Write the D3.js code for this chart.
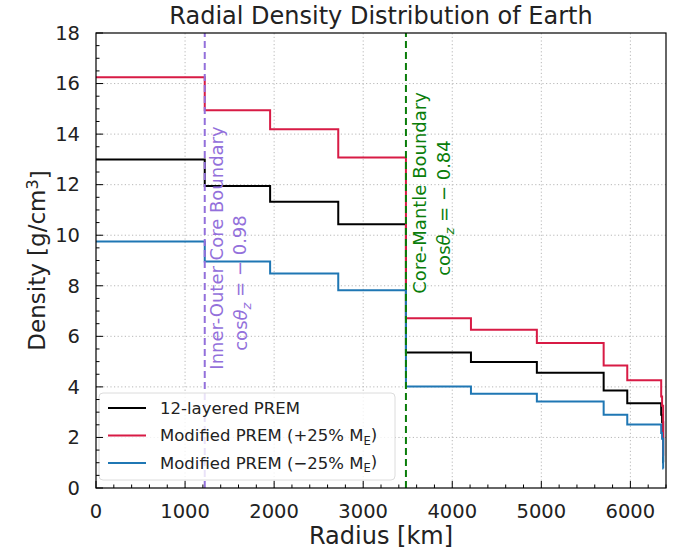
<!DOCTYPE html>
<html>
<head>
<meta charset="utf-8">
<script src="https://cdn.jsdelivr.net/npm/d3@7"></script>
<style>
  body { margin: 0; background: #fff; }
  svg text { font-family: "DejaVu Sans", sans-serif; fill: #222; }
</style>
</head>
<body>
<div id="chart"></div>
<script>
// Layer boundaries (km) and densities (g/cm^3)
const radii = [0, 1221, 1955, 2720, 3480, 4210, 4950, 5700, 5965, 6346, 6356, 6368, 6371];
const premDensity  = [13.0, 11.95, 11.32, 10.43, 5.36, 4.98, 4.56, 3.86, 3.35, 2.90, 2.60, 1.02];
const plusDensity  = [16.25, 14.94, 14.19, 13.07, 6.72, 6.26, 5.74, 4.85, 4.26, 3.62, 3.25, 1.28];
const minusDensity = [9.75, 8.96, 8.49, 7.82, 4.02, 3.73, 3.42, 2.90, 2.51, 2.18, 1.95, 0.77];

const xTicks = [0, 1000, 2000, 3000, 4000, 5000, 6000];
const yTicks = [0, 2, 4, 6, 8, 10, 12, 14, 16, 18];

const boundaries = [
    { r: 1221, color: '#9370db', name: 'Inner-Outer Core Boundary', cos: '0.98' },
    { r: 3480, color: '#0a7d0a', name: 'Core-Mantle Boundary', cos: '0.84' },
];

const series = [
    { label: '12-layered PREM', values: premDensity, color: '#000000', sub: null },
    { label: 'Modified PREM (+25% M', values: plusDensity, color: '#d81b45', sub: 'E' },
    { label: 'Modified PREM (\u221225% M', values: minusDensity, color: '#1f77b4', sub: 'E' },
];

const width = 673, height = 554;
const margin = { top: 33, right: 7, bottom: 66, left: 96 };
const innerW = width - margin.left - margin.right;
const innerH = height - margin.top - margin.bottom;

const svg = d3.select('#chart').append('svg')
    .attr('width', width)
    .attr('height', height);

const x = d3.scaleLinear().domain([0, 6400]).range([margin.left, margin.left + innerW]);
const y = d3.scaleLinear().domain([0, 18]).range([margin.top + innerH, margin.top]);

// Grid
const grid = svg.append('g')
    .attr('stroke', '#b0b0b0')
    .attr('stroke-width', 0.9)
    .attr('stroke-dasharray', '1.2,2.4');
grid.selectAll('line.gx').data(xTicks.slice(1)).join('line')
    .attr('x1', d => x(d)).attr('x2', d => x(d))
    .attr('y1', y(0)).attr('y2', y(18));
grid.selectAll('line.gy').data(yTicks.slice(1, -1)).join('line')
    .attr('y1', d => y(d)).attr('y2', d => y(d))
    .attr('x1', x(0)).attr('x2', x(6400));

// Step curves
const line = d3.line()
    .x(d => x(d[0]))
    .y(d => y(d[1]))
    .curve(d3.curveStepAfter);

series.forEach(s => {
    const pts = s.values.map((v, i) => [radii[i], v]);
    pts.push([radii[radii.length - 1], s.values[s.values.length - 1]]);
    svg.append('path')
        .datum(pts)
        .attr('fill', 'none')
        .attr('stroke', s.color)
        .attr('stroke-width', 2)
        .attr('d', line);
});

// Boundary lines
boundaries.forEach(b => {
    svg.append('line')
        .attr('x1', x(b.r)).attr('x2', x(b.r))
        .attr('y1', y(0)).attr('y2', y(18))
        .attr('stroke', b.color)
        .attr('stroke-width', 2)
        .attr('stroke-dasharray', '7,4');
});

// Boundary annotations (rotated)
const annoPos = [
    { dx: 12, c1: 248, c2: 283 },
    { dx: 14, c1: 193, c2: 208 },
];
boundaries.forEach((b, i) => {
    const p = annoPos[i];
    const bx = x(b.r) + p.dx;
    svg.append('text')
        .attr('transform', `translate(${bx},${p.c1}) rotate(-90)`)
        .attr('text-anchor', 'middle')
        .attr('dy', '0.35em')
        .style('font-size', '18px')
        .style('fill', b.color)
        .text(b.name);
    const t = svg.append('text')
        .attr('transform', `translate(${bx + 24},${p.c2}) rotate(-90)`)
        .attr('text-anchor', 'middle')
        .attr('dy', '0.35em')
        .style('font-size', '18px')
        .style('fill', b.color);
    t.append('tspan').text('cos');
    t.append('tspan').style('font-style', 'italic').text('\u03b8');
    t.append('tspan').attr('dy', '0.3em').style('font-size', '13px').style('font-style', 'italic').text('z');
    t.append('tspan').attr('dy', '-0.25em').text(' = \u2212 ' + b.cos);
});

// Legend
const lg = svg.append('g').attr('transform', `translate(${x(0) + 3},${y(0) - 95})`);
lg.append('rect')
    .attr('width', 296).attr('height', 87)
    .attr('rx', 4)
    .attr('fill', 'white').attr('fill-opacity', 0.8)
    .attr('stroke', '#dcdcdc').attr('stroke-width', 1);
series.forEach((s, i) => {
    const ry = 15 + i * 27.5;
    lg.append('line')
        .attr('x1', 9).attr('x2', 47)
        .attr('y1', ry).attr('y2', ry)
        .attr('stroke', s.color).attr('stroke-width', 2);
    const t = lg.append('text')
        .attr('x', 61).attr('y', ry)
        .attr('dy', '0.35em')
        .style('font-size', '16.5px');
    t.append('tspan').text(s.label);
    if (s.sub) {
        t.append('tspan').attr('dy', '0.3em').style('font-size', '11.5px').text(s.sub);
        t.append('tspan').attr('dy', '-0.3em').text(')');
    }
});

// Axes frame
svg.append('rect')
    .attr('x', x(0)).attr('y', y(18))
    .attr('width', innerW).attr('height', innerH)
    .attr('fill', 'none').attr('stroke', '#000').attr('stroke-width', 1.2);

// Ticks (inward)
const ticks = svg.append('g').attr('stroke', '#000').attr('stroke-width', 1);
const xMinor = d3.range(0, 6401, 200);
const yMinor = d3.range(0, 18.01, 0.5);
ticks.selectAll('line.xm').data(xMinor).join('line')
    .attr('x1', d => x(d)).attr('x2', d => x(d))
    .attr('y1', y(0)).attr('y2', d => y(0) - (d % 1000 === 0 ? 7 : 3.5));
ticks.selectAll('line.ym').data(yMinor).join('line')
    .attr('y1', d => y(d)).attr('y2', d => y(d))
    .attr('x1', x(0)).attr('x2', d => x(0) + (d % 2 === 0 ? 7 : 3.5));

// Tick labels
svg.selectAll('text.xt').data(xTicks).join('text')
    .attr('class', 'xt')
    .attr('x', d => x(d)).attr('y', y(0) + 30)
    .attr('text-anchor', 'middle')
    .style('font-size', '19.5px')
    .text(d => d);
svg.selectAll('text.yt').data(yTicks).join('text')
    .attr('class', 'yt')
    .attr('x', x(0) - 16).attr('y', d => y(d))
    .attr('dy', '0.35em')
    .attr('text-anchor', 'end')
    .style('font-size', '19.5px')
    .text(d => d);

// Axis titles
svg.append('text')
    .attr('x', x(3200)).attr('y', 544)
    .attr('text-anchor', 'middle')
    .style('font-size', '24px')
    .text('Radius [km]');
const yl = svg.append('text')
    .attr('transform', `translate(37,${y(9)}) rotate(-90)`)
    .attr('text-anchor', 'middle')
    .attr('dy', '0.35em')
    .style('font-size', '23px');
yl.append('tspan').text('Density [g/cm');
yl.append('tspan').attr('dy', '-0.45em').style('font-size', '16px').text('3');
yl.append('tspan').attr('dy', '0.45em').text(']');

// Title
svg.append('text')
    .attr('x', x(3200)).attr('y', 24)
    .attr('text-anchor', 'middle')
    .style('font-size', '24px')
    .text('Radial Density Distribution of Earth');
</script>
</body>
</html>
